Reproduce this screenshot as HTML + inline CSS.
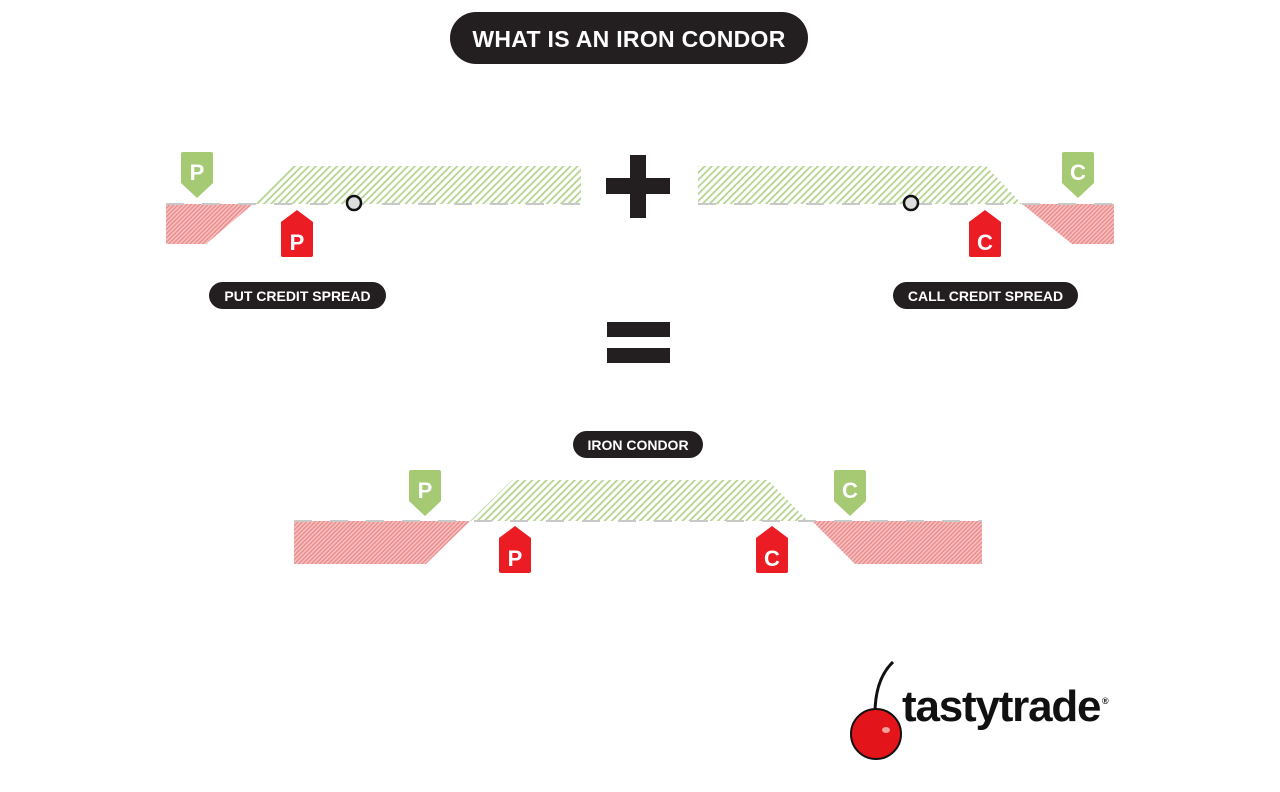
<!DOCTYPE html>
<html><head><meta charset="utf-8"><style>
html,body{margin:0;padding:0;background:#fff;width:1280px;height:792px;overflow:hidden}
svg{display:block}
text{font-family:"Liberation Sans",sans-serif;font-weight:bold}
</style></head><body>
<svg width="1280" height="792" viewBox="0 0 1280 792" xmlns="http://www.w3.org/2000/svg">
<defs>
<pattern id="g" width="5" height="5" patternUnits="userSpaceOnUse" patternTransform="rotate(45)">
<rect width="5" height="5" fill="#fff"/><rect width="1.8" height="5" fill="#b5d490"/></pattern>
<pattern id="r" width="3" height="3" patternUnits="userSpaceOnUse" patternTransform="rotate(45)">
<rect width="3" height="3" fill="#f6c4c4"/><rect width="1.6" height="3" fill="#ec8e8e"/></pattern>
<g id="gp"><path d="M2 0H30Q32 0 32 2V31L16 46L0 31V2Q0 0 2 0Z" fill="#a6c973"/></g>
<g id="rp"><path d="M16 0L32 12V45Q32 47 30 47H2Q0 47 0 45V12Z" fill="#ec1c24"/></g>
</defs>

<rect x="450" y="12" width="358" height="52" rx="26" fill="#231f20"/>
<text x="629" y="47" font-size="23" fill="#fff" text-anchor="middle" letter-spacing="0.3">WHAT IS AN IRON CONDOR</text>

<polygon points="166,204 253,204 206,244 166,244" fill="url(#r)"/>
<polygon points="253,204 293,166 581,166 581,204" fill="url(#g)"/>
<line x1="166" y1="204" x2="581" y2="204" stroke="#c8c8c8" stroke-width="2" stroke-dasharray="18,18"/>
<circle cx="354" cy="203" r="7" fill="#ddd" stroke="#111" stroke-width="2.5"/>
<use href="#gp" x="181" y="152"/><text x="197" y="180" font-size="22" fill="#fff" text-anchor="middle">P</text>
<use href="#rp" x="281" y="210"/><text x="297" y="250" font-size="22" fill="#fff" text-anchor="middle">P</text>

<rect x="606" y="178" width="64" height="16" fill="#231f20"/>
<rect x="630" y="155" width="16" height="63" fill="#231f20"/>

<polygon points="698,166 986,166 1022,204 698,204" fill="url(#g)"/>
<polygon points="1022,204 1114,204 1114,244 1072,244" fill="url(#r)"/>
<line x1="698" y1="204" x2="1114" y2="204" stroke="#c8c8c8" stroke-width="2" stroke-dasharray="18,18"/>
<circle cx="911" cy="203" r="7" fill="#ddd" stroke="#111" stroke-width="2.5"/>
<use href="#gp" x="1062" y="152"/><text x="1078" y="180" font-size="22" fill="#fff" text-anchor="middle">C</text>
<use href="#rp" x="969" y="210"/><text x="985" y="250" font-size="22" fill="#fff" text-anchor="middle">C</text>

<rect x="209" y="282" width="177" height="27" rx="13.5" fill="#231f20"/>
<text x="297.5" y="301" font-size="14" fill="#fff" text-anchor="middle">PUT CREDIT SPREAD</text>
<rect x="893" y="282" width="185" height="27" rx="13.5" fill="#231f20"/>
<text x="985.5" y="301" font-size="14" fill="#fff" text-anchor="middle">CALL CREDIT SPREAD</text>

<rect x="607" y="322" width="63" height="15" fill="#231f20"/>
<rect x="607" y="348" width="63" height="15" fill="#231f20"/>

<rect x="573" y="431" width="130" height="27" rx="13.5" fill="#231f20"/>
<text x="638" y="450" font-size="14" fill="#fff" text-anchor="middle">IRON CONDOR</text>

<polygon points="294,521 470,521 426,564 294,564" fill="url(#r)"/>
<polygon points="470,521 512,480 768,480 808,521" fill="url(#g)"/>
<polygon points="812,521 982,521 982,564 855,564" fill="url(#r)"/>
<line x1="294" y1="521" x2="982" y2="521" stroke="#c8c8c8" stroke-width="2" stroke-dasharray="18,18"/>
<use href="#gp" x="409" y="470"/><text x="425" y="498" font-size="22" fill="#fff" text-anchor="middle">P</text>
<use href="#rp" x="499" y="526"/><text x="515" y="566" font-size="22" fill="#fff" text-anchor="middle">P</text>
<use href="#gp" x="834" y="470"/><text x="850" y="498" font-size="22" fill="#fff" text-anchor="middle">C</text>
<use href="#rp" x="756" y="526"/><text x="772" y="566" font-size="22" fill="#fff" text-anchor="middle">C</text>

<path d="M893 662 Q874 680 875 718" stroke="#111" stroke-width="3" fill="none"/>
<circle cx="876" cy="734" r="25" fill="#e3151b" stroke="#111" stroke-width="2"/>
<ellipse cx="886" cy="730" rx="4" ry="3" fill="#f7a0a0"/>
<text x="902" y="721" font-size="44" fill="#111" letter-spacing="-1.2">tastytrade</text>
<text x="1102" y="704" font-size="9" fill="#111">®</text>
</svg>
</body></html>
